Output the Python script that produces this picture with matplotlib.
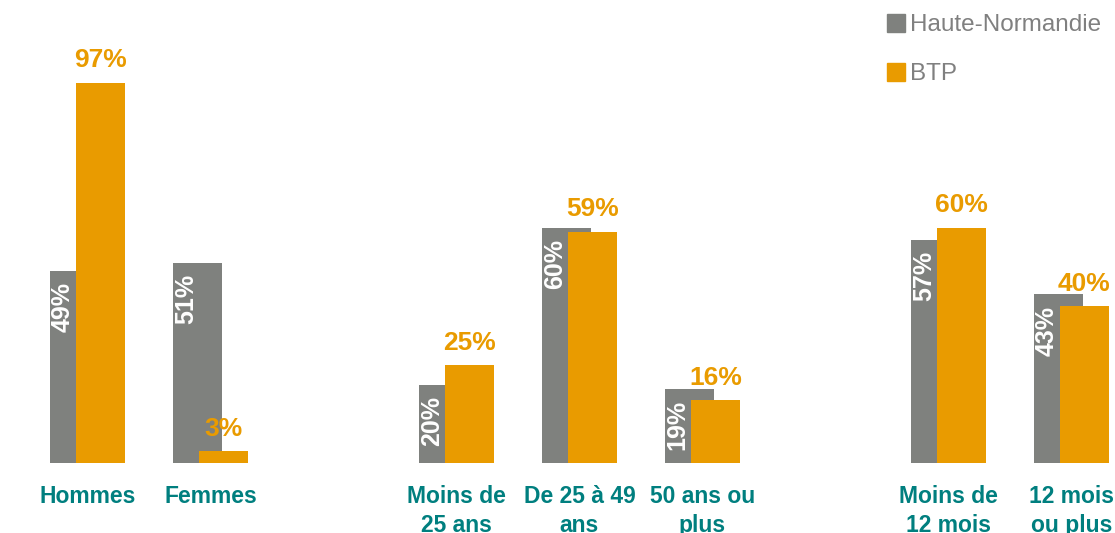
import matplotlib.pyplot as plt
from matplotlib.patches import Patch

# ----------------------
# Data
# ----------------------
sexe = ["Hommes", "Femmes"]
age = ["Moins de\n25 ans", "De 25 à 49\nans", "50 ans ou\nplus"]
anciennete = ["Moins de\n12 mois", "12 mois\nou plus"]

hauteNormandie = [49, 51, 20, 60, 19, 57, 43]
btp = [97, 3, 25, 59, 16, 60, 40]

seriesNames = ["Haute-Normandie", "BTP"]

# ----------------------
# Style
# ----------------------
greyCol = "#7f817e"
orangeCol = "#e99b00"
tealCol = "#007f7f"

plt.rcParams["font.family"] = ["Liberation Sans", "DejaVu Sans"]

# positions: one empty slot between each group
groups = [sexe, age, anciennete]
labels = []
xPos = []
pos = 0
for g in groups:
    for lab in g:
        labels.append(lab)
        xPos.append(pos)
        pos += 1
    pos += 1  # gap between groups

fig = plt.figure(figsize=(11.15, 5.33), dpi=100)
ax = fig.add_axes([0, 70 / 533, 1, 463 / 533])

w = 0.4
off = 0.106
for i, x in enumerate(xPos):
    ax.bar(x - off, hauteNormandie[i], width=w, color=greyCol, zorder=2)
    ax.bar(x + off, btp[i], width=w, color=orangeCol, zorder=3)

    # white rotated label on the visible part of the grey bar
    ax.annotate("{}%".format(hauteNormandie[i]), xy=(x - 0.2, hauteNormandie[i]),
                xytext=(0, -8), textcoords="offset points", rotation=90,
                ha="center", va="top", color="white", fontsize=18,
                fontweight="bold", zorder=4)
    # orange label above the orange bar
    ax.annotate("{}%".format(btp[i]), xy=(x + off, btp[i]),
                xytext=(0, 7.5), textcoords="offset points",
                ha="center", va="bottom", color=orangeCol, fontsize=19,
                fontweight="bold", zorder=4)
    # category label below
    ax.annotate(labels[i], xy=(x, 0), xytext=(0, -16), textcoords="offset points",
                ha="center", va="top", color=tealCol, fontsize=16.5,
                fontweight="bold", linespacing=1.3, annotation_clip=False)

ax.set_xlim(-0.711, 8.354)
ax.set_ylim(0, 463 / 3.92)
ax.axis("off")

handles = [Patch(color=greyCol), Patch(color=orangeCol)]
fig.legend(handles, seriesNames, loc="upper left", bbox_to_anchor=(887 / 1115, 1 - 14 / 533),
           frameon=False, fontsize=17.5, labelcolor="#808080", handlelength=0.75,
           handleheight=0.75, handletextpad=0.2, labelspacing=1.1, borderaxespad=0,
           borderpad=0)

fig.savefig("out.png", dpi=100)
